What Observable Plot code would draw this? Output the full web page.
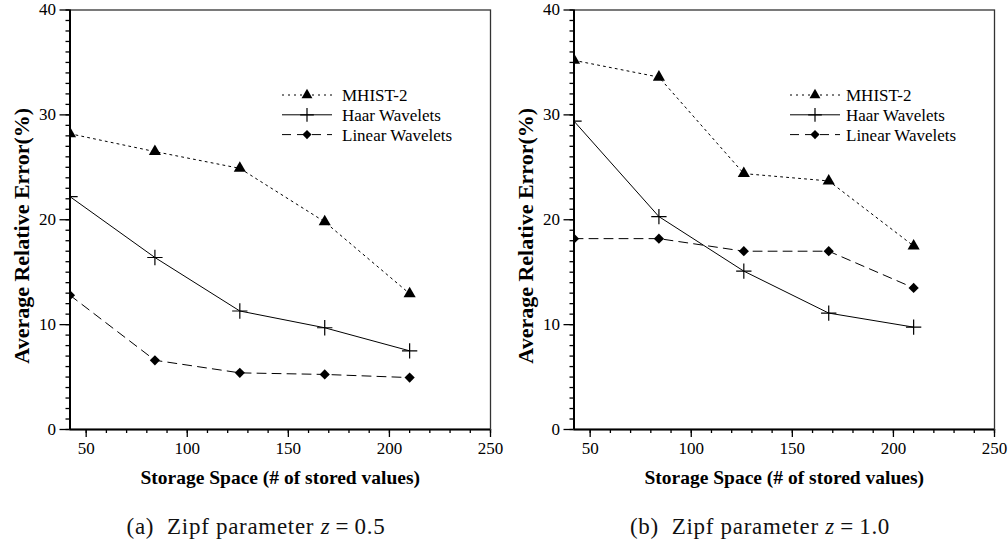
<!DOCTYPE html>
<html>
<head>
<meta charset="utf-8">
<script src="https://cdn.jsdelivr.net/npm/d3@7"></script>
<script src="https://cdn.jsdelivr.net/npm/@observablehq/plot@0.6"></script>
<style>
  html, body { margin: 0; padding: 0; background: #fff; }
  #wrap { position: relative; width: 1008px; height: 548px; display: flex; }
  .panel { position: relative; width: 504px; }
  .panel svg { display: block; }
  .caption { font-family: "Liberation Serif", "Times New Roman", Times, serif; font-size: 23px; color: #111; text-align: center; padding-left: 8px; padding-top: 15px; line-height: 24px; letter-spacing: 0.7px; }
  .legend { position: absolute; }
</style>
</head>
<body>
<div id="wrap"></div>
<script>
// ---- data ----
const storage = [42, 84, 126, 168, 210];
const seriesNames = ["MHIST-2", "Haar Wavelets", "Linear Wavelets"];
// panel (a) z = 0.5
const mhistA = [28.2, 26.5, 24.9, 19.8, 12.95];
const haarA = [22.2, 16.4, 11.3, 9.7, 7.5];
const linearA = [12.8, 6.6, 5.4, 5.25, 4.95];
// panel (b) z = 1.0
const mhistB = [35.2, 33.6, 24.4, 23.7, 17.5];
const haarB = [29.4, 20.3, 15.1, 11.1, 9.76];
const linearB = [18.2, 18.2, 17.0, 17.0, 13.5];
const xMajorTicks = [50, 100, 150, 200, 250];
const yMajorTicks = [0, 10, 20, 30, 40];
const xLabel = "Storage Space (# of stored values)";
const yLabel = "Average Relative Error(%)";
const captions = ["(a)", "(b)"];
const zValues = ["0.5", "1.0"];

// style per series
const styles = {
  "MHIST-2": {dash: "2,4", symbol: "triangle2", r: 5.8, fill: true},
  "Haar Wavelets": {dash: null, symbol: "plus", r: 5, fill: false},
  "Linear Wavelets": {dash: "9,6", symbol: "diamond2", r: 4.6, fill: true}
};

const FONT = '"Liberation Serif", "Times New Roman", Times, serif';

function rowsFor(vals) {
  return storage.map((s, i) => ({x: s, y: vals[i]}));
}

function makePanel(seriesVals) {
  const marks = [
    Plot.axisX({ticks: d3.range(50, 251, 10), tickSize: 4, tickFormat: () => "", label: null, strokeWidth: 1.3}),
    Plot.axisX({ticks: xMajorTicks, tickSize: 8, tickPadding: 4, label: null, strokeWidth: 1.3, fontSize: 17}),
    Plot.axisY({ticks: d3.range(0, 41, 1), tickSize: 4, tickFormat: () => "", label: null, strokeWidth: 1.3}),
    Plot.axisY({ticks: yMajorTicks, tickSize: 10, tickPadding: 4, label: null, strokeWidth: 1.3, fontSize: 17}),
    Plot.frame({stroke: "#333", strokeWidth: 1.3}),
    Plot.ruleY([0], {strokeWidth: 2}),
    Plot.ruleX([42], {strokeWidth: 2}),
  ];
  seriesNames.forEach((name, k) => {
    const st = styles[name];
    const rows = rowsFor(seriesVals[k]);
    marks.push(Plot.line(rows, {x: "x", y: "y", stroke: "black", strokeWidth: 1, strokeDasharray: st.dash || undefined, clip: true}));
    marks.push(Plot.dot(rows, {x: "x", y: "y", symbol: st.symbol, r: st.r,
      fill: st.fill ? "black" : "none", stroke: st.fill ? "none" : "black", strokeWidth: 1.2, clip: true}));
  });
  marks.push(Plot.text([xLabel], {frameAnchor: "bottom", dy: 48, lineAnchor: "middle", textAnchor: "middle", fontWeight: "bold", fontSize: 19.5}));
  marks.push(Plot.text([yLabel], {frameAnchor: "left", dx: -48, dy: 16, rotate: -90, textAnchor: "middle", lineAnchor: "middle", fontWeight: "bold", fontSize: 22}));
  return Plot.plot({
    width: 504, height: 500,
    marginLeft: 69.5, marginRight: 14, marginTop: 9.5, marginBottom: 71,
    x: {domain: [42, 250]},
    y: {domain: [0, 40]},
    style: {fontFamily: FONT, fontSize: "17px", color: "black", background: "white"},
    marks
  });
}

function makeLegend(lineX0) {
  const w = 210, h = 66;
  const svg = d3.create("svg").attr("width", w).attr("height", h)
    .attr("font-family", FONT).attr("font-size", 17);
  const symMap = {triangle2: d3.symbolTriangle2, plus: d3.symbolPlus, diamond2: d3.symbolDiamond2};
  seriesNames.forEach((name, i) => {
    const st = styles[name];
    const y = 14 + i * 19.8;
    svg.append("line").attr("x1", lineX0).attr("x2", lineX0 + 50).attr("y1", y).attr("y2", y)
      .attr("stroke", "black").attr("stroke-width", 1).attr("stroke-dasharray", st.dash);
    svg.append("path").attr("transform", `translate(${lineX0 + 25},${y})`)
      .attr("d", d3.symbol(symMap[st.symbol], Math.PI * st.r * st.r * 0.8)())
      .attr("fill", st.fill ? "black" : "none").attr("stroke", st.fill ? "none" : "black").attr("stroke-width", 1.2);
    svg.append("text").attr("x", 67).attr("y", y).attr("dy", "0.35em").text(name);
  });
  return svg.node();
}

const wrap = document.getElementById("wrap");
const allVals = [[mhistA, haarA, linearA], [mhistB, haarB, linearB]];
allVals.forEach((vals, p) => {
  const panel = document.createElement("div");
  panel.className = "panel";
  panel.appendChild(makePanel(vals));
  const leg = document.createElement("div");
  leg.className = "legend";
  leg.style.left = "275px";
  leg.style.top = "81px";
  leg.appendChild(makeLegend(p === 0 ? 7 : 11));
  panel.appendChild(leg);
  const cap = document.createElement("div");
  cap.className = "caption";
  cap.innerHTML = `${captions[p]}&nbsp; Zipf parameter <i>z</i>&thinsp;=&thinsp;${zValues[p]}`;
  panel.appendChild(cap);
  wrap.appendChild(panel);
});
</script>
</body>
</html>
